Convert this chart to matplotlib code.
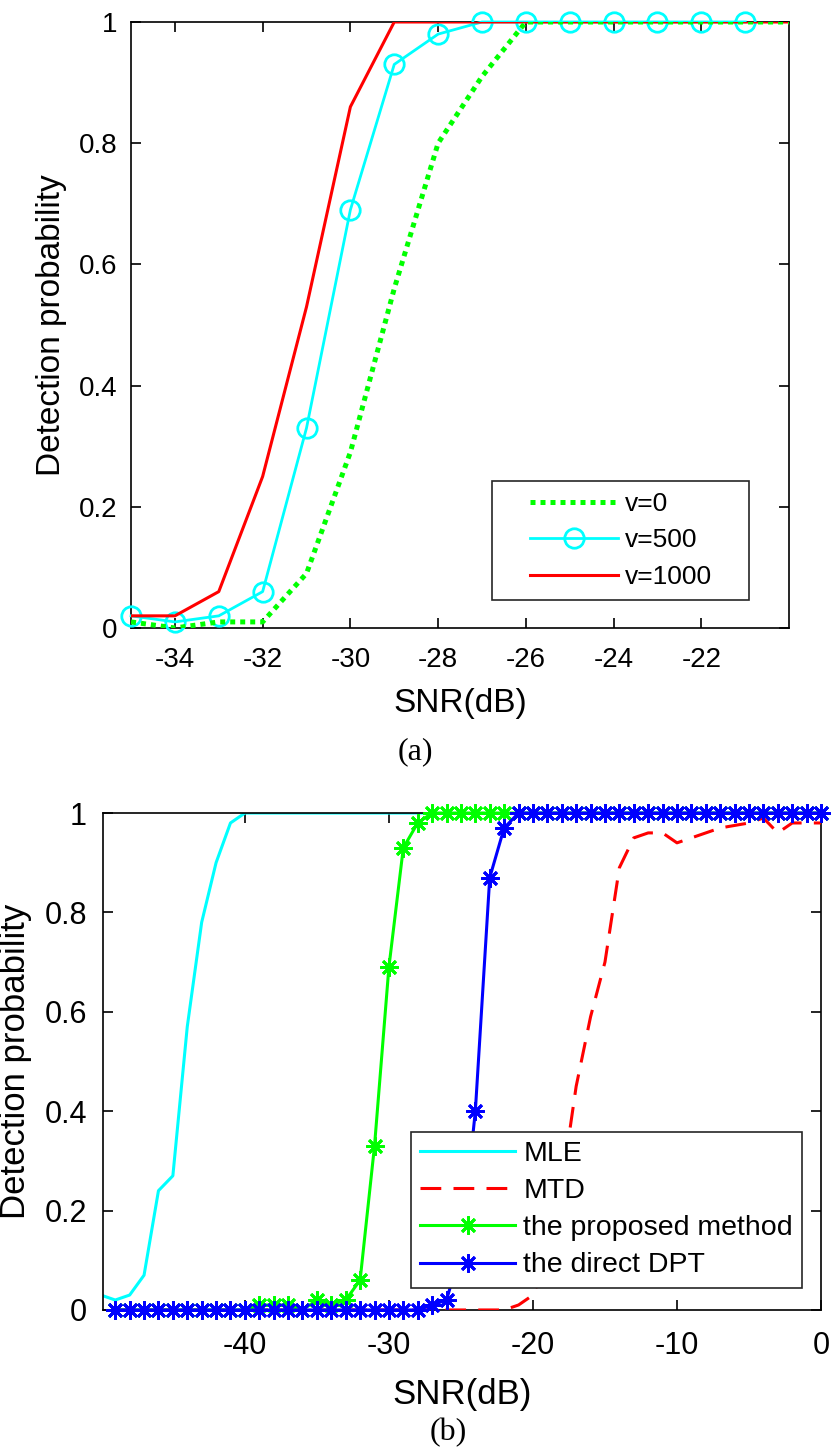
import matplotlib

matplotlib.use("Agg")
import matplotlib.pyplot as plt
from matplotlib.legend_handler import HandlerLine2D

plt.rcParams["font.family"] = ["Liberation Sans", "DejaVu Sans"]
plt.rcParams["axes.unicode_minus"] = False

# ---- (a) detection probability vs SNR for three target speeds ----
snr_a = [-35, -34, -33, -32, -31, -30, -29, -28, -27, -26, -25, -24, -23, -22, -21, -20]
pd_v0 = [0.01, 0.00, 0.01, 0.01, 0.09, 0.29, 0.56, 0.80, 0.91, 1.0, 1.0, 1.0, 1.0, 1.0, 1.0, 1.0]
snr_v500 = [-35, -34, -33, -32, -31, -30, -29, -28, -27, -26, -25, -24, -23, -22, -21]
pd_v500 = [0.02, 0.01, 0.02, 0.06, 0.33, 0.69, 0.93, 0.98, 1.0, 1.0, 1.0, 1.0, 1.0, 1.0, 1.0]
pd_v1000 = [0.02, 0.02, 0.06, 0.25, 0.53, 0.86, 1.0, 1.0, 1.0, 1.0, 1.0, 1.0, 1.0, 1.0, 1.0, 1.0]
xticks_a = [-34, -32, -30, -28, -26, -24, -22]

# ---- (b) comparison of methods ----
snr_mle = [-50, -49, -48, -47, -46, -45, -44, -43, -42, -41, -40, -39, -38, -37, -36, -35, -34,
           -33, -32, -31, -30, -29, -28, -27, -26, -25, -24, -23, -22, -21, -20, -19, -18, -17,
           -16, -15, -14, -13, -12, -11, -10, -9, -8, -7, -6, -5, -4, -3, -2, -1, 0]
pd_mle = [0.03, 0.02, 0.03, 0.07, 0.24, 0.27, 0.57, 0.78, 0.90, 0.98, 1.0, 1.0, 1.0, 1.0, 1.0,
          1.0, 1.0, 1.0, 1.0, 1.0, 1.0, 1.0, 1.0, 1.0, 1.0, 1.0, 1.0, 1.0, 1.0, 1.0, 1.0, 1.0,
          1.0, 1.0, 1.0, 1.0, 1.0, 1.0, 1.0, 1.0, 1.0, 1.0, 1.0, 1.0, 1.0, 1.0, 1.0, 1.0, 1.0,
          1.0, 1.0]
snr_b = [-49, -48, -47, -46, -45, -44, -43, -42, -41, -40, -39, -38, -37, -36, -35, -34, -33,
         -32, -31, -30, -29, -28, -27, -26, -25, -24, -23, -22, -21, -20, -19, -18, -17, -16,
         -15, -14, -13, -12, -11, -10, -9, -8, -7, -6, -5, -4, -3, -2, -1, 0]
pd_mtd = [0.0, 0.0, 0.0, 0.0, 0.0, 0.0, 0.0, 0.0, 0.0, 0.0, 0.0, 0.0, 0.0, 0.0, 0.0, 0.0, 0.0,
          0.0, 0.0, 0.0, 0.0, 0.0, 0.0, 0.0, 0.0, 0.0, 0.0, 0.0, 0.01, 0.03, 0.10, 0.25, 0.45,
          0.59, 0.70, 0.89, 0.95, 0.96, 0.96, 0.94, 0.95, 0.96, 0.97, 0.975, 0.98, 0.99, 0.96,
          0.98, 0.98, 0.98]
pd_proposed = [0.0, 0.0, 0.0, 0.0, 0.0, 0.0, 0.0, 0.0, 0.0, 0.0, 0.01, 0.01, 0.01, 0.0, 0.02,
               0.01, 0.02, 0.06, 0.33, 0.69, 0.93, 0.98, 1.0, 1.0, 1.0, 1.0, 1.0, 1.0, 1.0, 1.0,
               1.0, 1.0, 1.0, 1.0, 1.0, 1.0, 1.0, 1.0, 1.0, 1.0, 1.0, 1.0, 1.0, 1.0, 1.0, 1.0,
               1.0, 1.0, 1.0, 1.0]
pd_direct = [0.0, 0.0, 0.0, 0.0, 0.0, 0.0, 0.0, 0.0, 0.0, 0.0, 0.0, 0.0, 0.0, 0.0, 0.0, 0.0,
             0.0, 0.0, 0.0, 0.0, 0.0, 0.0, 0.01, 0.02, 0.12, 0.40, 0.87, 0.97, 1.0, 1.0, 1.0,
             1.0, 1.0, 1.0, 1.0, 1.0, 1.0, 1.0, 1.0, 1.0, 1.0, 1.0, 1.0, 1.0, 1.0, 1.0, 1.0,
             1.0, 1.0, 1.0]
xticks_b = [-40, -30, -20, -10, 0]

yticks = [0, 0.2, 0.4, 0.6, 0.8, 1]
ytick_labels = ["0", "0.2", "0.4", "0.6", "0.8", "1"]

ASTERISK = (8, 2, 0)
SERIF = ["Liberation Serif", "DejaVu Serif"]


def style_axis(ax, size, xpad, ypad):
    ax.tick_params(direction="in", top=True, right=True, length=7, width=1.2,
                   labelsize=size, colors="black")
    ax.tick_params(axis="x", pad=xpad)
    ax.tick_params(axis="y", pad=ypad)
    for spine in ax.spines.values():
        spine.set_linewidth(1.2)
        spine.set_color("black")


fig = plt.figure(figsize=(8.32, 14.56), dpi=100)
fig.patch.set_facecolor("white")

# panel (a)
ax = fig.add_axes([0.1575, 0.5687, 0.7909, 0.4162])
h1, = ax.plot(snr_v500, pd_v500, color="#00ffff", linewidth=2, marker="o", markersize=14,
              markerfacecolor="none", markeredgewidth=2, zorder=3, clip_on=False, label="v=500")
h2, = ax.plot(snr_a, pd_v1000, color="#ff0000", linewidth=2.2, zorder=4, label="v=1000")
h0, = ax.plot(snr_a, pd_v0, color="#00ff00", linewidth=3.6, linestyle=(0, (1, 1)),
              zorder=5, label="v=0")
ax.set_xlim(-35, -20)
ax.set_ylim(0, 1)
ax.set_xticks(xticks_a)
ax.set_yticks(yticks)
ax.set_yticklabels(ytick_labels)
style_axis(ax, 20, 14, 10)
ax.set_xlabel("SNR(dB)", fontsize=24, va="center")
ax.xaxis.set_label_coords(0.5, -0.124)
ax.set_ylabel("Detection probability", fontsize=24, va="center")
ax.yaxis.set_label_coords(-0.1205, 0.5)
line_handler = HandlerLine2D(xpad=1.02)
leg = ax.legend([h0, h1, h2], ["v=0", "v=500", "v=1000"], loc="upper left",
                bbox_to_anchor=(0.5486, 0.048, 0.3906, 0.1946), mode="expand",
                borderaxespad=0, fancybox=False, edgecolor="#262626", framealpha=1,
                fontsize=19, handlelength=4.36, borderpad=0.42, labelspacing=0.47,
                handletextpad=0.27,
                handler_map={h0: line_handler, h1: line_handler, h2: line_handler})
leg.get_frame().set_linewidth(1.2)
fig.text(415 / 832, 1 - 752 / 1456, "(a)", fontsize=23, ha="center", va="center", family=SERIF)

# panel (b)
ax = fig.add_axes([0.1238, 0.1003, 0.8630, 0.3413])
g1, = ax.plot(snr_mle, pd_mle, color="#00ffff", linewidth=2.2, zorder=2, label="MLE")
g2, = ax.plot(snr_b, pd_mtd, color="#ff0000", linewidth=2.2, linestyle=(0, (6.8, 4)),
              zorder=3, label="MTD")
g3, = ax.plot(snr_b, pd_proposed, color="#00ff00", linewidth=2.2, marker=ASTERISK,
              markersize=13, markeredgewidth=2, zorder=4, clip_on=False,
              label="the proposed method")
g4, = ax.plot(snr_b, pd_direct, color="#0000ff", linewidth=2.2, marker=ASTERISK,
              markersize=13, markeredgewidth=2, zorder=5, clip_on=False, label="the direct DPT")
ax.set_xlim(-49.85, 0)
ax.set_ylim(0, 1)
ax.set_xticks(xticks_b)
ax.set_yticks(yticks)
ax.set_yticklabels(ytick_labels)
style_axis(ax, 22, 15, 11.5)
ax.set_xlabel("SNR(dB)", fontsize=25, va="center")
ax.xaxis.set_label_coords(0.5, -0.171)
ax.set_ylabel("Detection probability", fontsize=25, va="center")
ax.yaxis.set_label_coords(-0.1216, 0.5)
leg = ax.legend([g1, g2, g3, g4], ["MLE", "MTD", "the proposed method", "the direct DPT"],
                loc="upper left", bbox_to_anchor=(0.429, 0.358), borderaxespad=0,
                fancybox=False, edgecolor="#262626", framealpha=1, fontsize=20.5,
                handlelength=3.34, borderpad=0.32, labelspacing=0.39, handletextpad=0.28)
leg.set_zorder(10)
leg.get_frame().set_linewidth(1.2)
fig.text(448 / 832, 1 - 1433 / 1456, "(b)", fontsize=23, ha="center", va="center", family=SERIF)

fig.savefig("out.png", dpi=100)
plt.close(fig)
